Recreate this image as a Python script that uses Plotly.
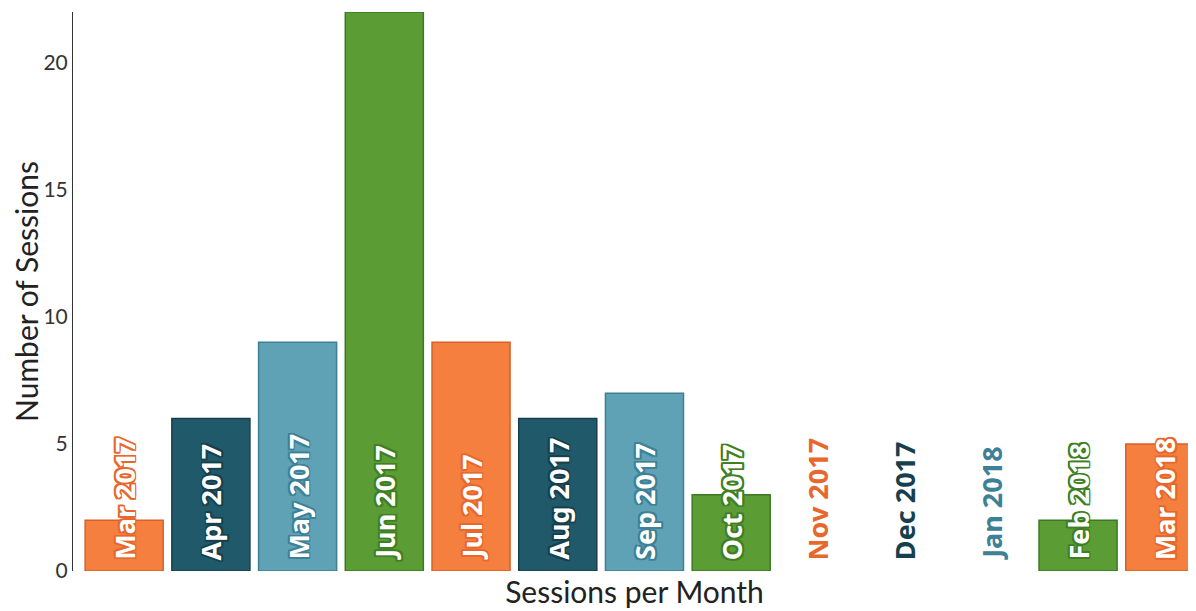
import plotly.graph_objects as go

months = ['Mar 2017', 'Apr 2017', 'May 2017', 'Jun 2017', 'Jul 2017', 'Aug 2017',
          'Sep 2017', 'Oct 2017', 'Nov 2017', 'Dec 2017', 'Jan 2018', 'Feb 2018', 'Mar 2018']
sessions = [2, 6, 9, 22, 9, 6, 7, 3, 0, 0, 0, 2, 5]

palette = ['#f57f3e', '#20596a', '#5fa2b6', '#5c9c35']
edges = ['#d8602a', '#153f4c', '#3f7f93', '#3a7a22']
label_colors = ['#e8672c', '#173f4d', '#3d8196', '#3f7f24']

colors = [palette[i % 4] for i in range(len(months))]
edge_colors = [edges[i % 4] for i in range(len(months))]
edge_widths = [1.5 if v > 0 else 0 for v in sessions]

FONT = '"Noto Sans", Lato, sans-serif'
AXFONT = 'Lato, "Noto Sans", sans-serif'


def outline(color, w=1.7):
    offs = [(-w, 0), (w, 0), (0, -w), (0, w), (-w, -w), (w, w), (-w, w), (w, -w)]
    return ', '.join(f'{x}px {y}px 0 {color}' for x, y in offs)


fig = go.Figure()
fig.add_trace(go.Bar(
    x=months, y=sessions,
    marker=dict(color=colors, line=dict(color=edge_colors, width=edge_widths)),
    hoverinfo='x+y',
))

for i, (m, v) in enumerate(zip(months, sessions)):
    c = label_colors[i % 4]
    if v == 0:
        font = dict(family=FONT, size=27, color=c, weight='bold')
    else:
        font = dict(family=FONT, size=27, color='white', weight='bold', shadow=outline(c))
    fig.add_annotation(
        x=m, y=0, text=m, textangle=-90, showarrow=False,
        xanchor='center', yanchor='bottom', yshift=9,
        font=font,
    )

# page body adds an 8px offset, so the figure is a little smaller than the window
fig.update_layout(
    width=1188, height=603,
    margin=dict(l=65, r=0, t=4, b=40, autoexpand=False),
    paper_bgcolor='white', plot_bgcolor='white',
    bargap=0.1, showlegend=False,
    font=dict(family=AXFONT, color='#222'),
    xaxis=dict(
        range=[-0.59, 12.36], showticklabels=False, showgrid=False,
        zeroline=False, showline=False, ticks='', automargin=False,
        title=dict(text='Sessions per Month', font=dict(size=30, color='#222'), standoff=10),
    ),
    yaxis=dict(
        range=[0, 22], tickvals=[0, 5, 10, 15, 20], showgrid=False, zeroline=False,
        showline=True, linecolor='#333', linewidth=1, ticks='', automargin=False,
        tickfont=dict(size=21, color='#333'),
        title=dict(text='Number of Sessions', font=dict(size=30, color='#222'), standoff=10),
    ),
)

fig.write_html("out.html")
